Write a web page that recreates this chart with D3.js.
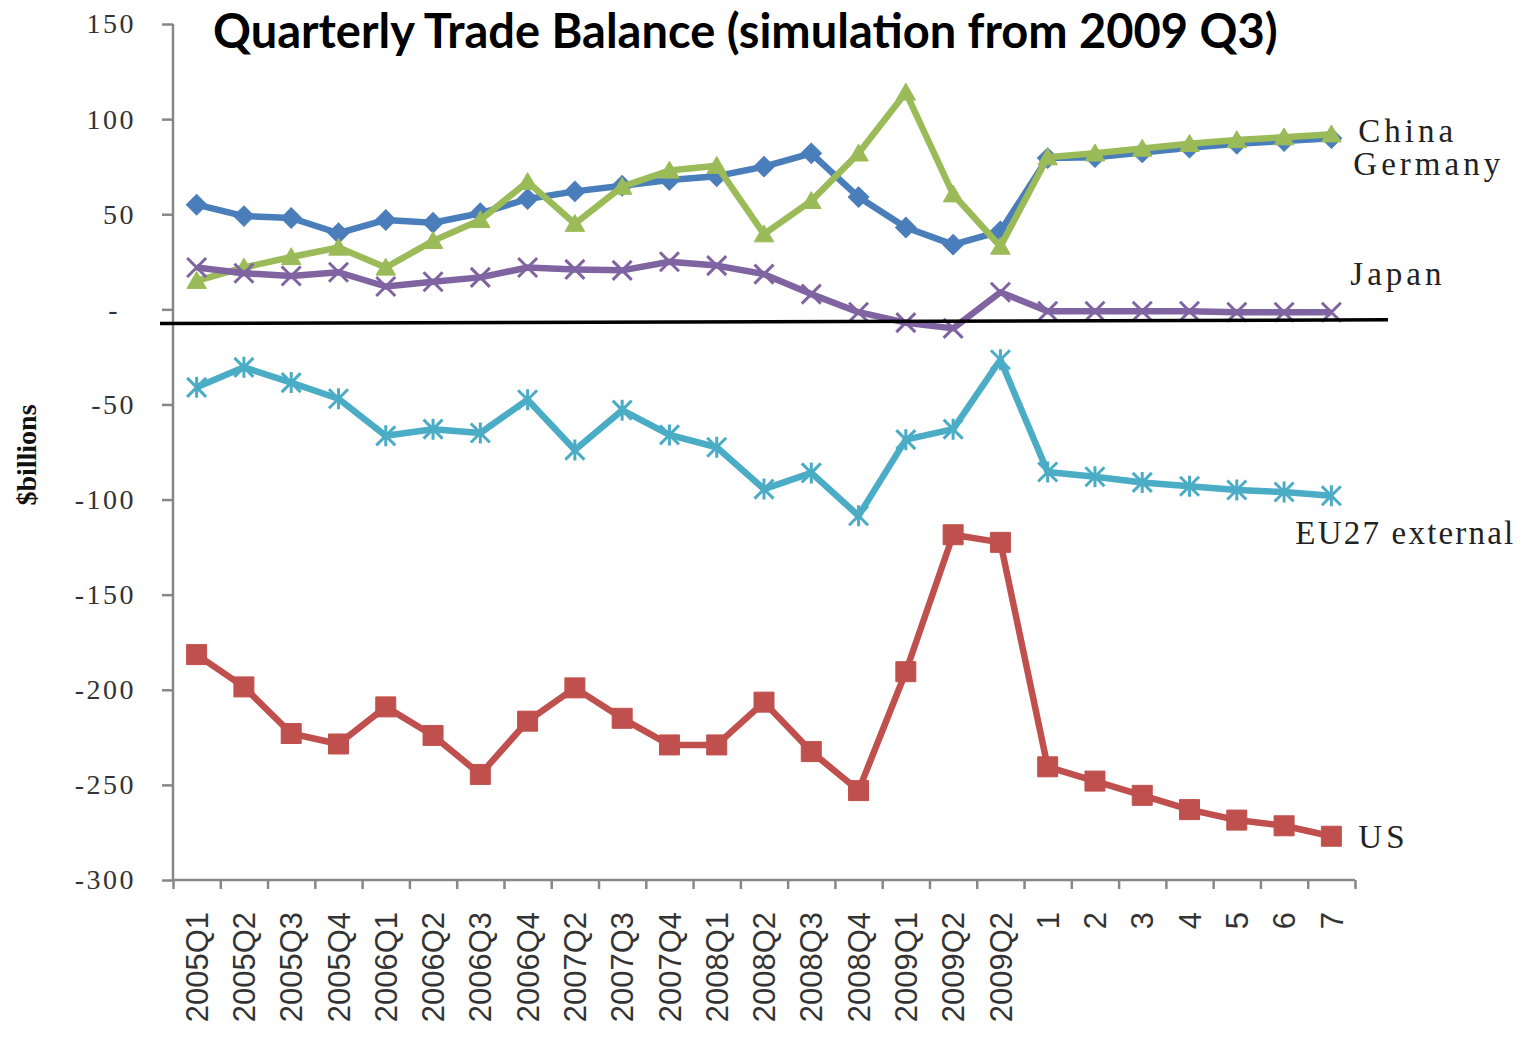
<!DOCTYPE html>
<html>
<head>
<meta charset="utf-8">
<script src="https://cdn.jsdelivr.net/npm/d3@7"></script>
<style>
  html, body { margin: 0; padding: 0; background: #fff; overflow: hidden; }
  svg { display: block; }
</style>
</head>
<body>
<svg id="chart" width="1524" height="1038"></svg>
<script>
// ---- data ----
const categories = ["2005Q1","2005Q2","2005Q3","2005Q4","2006Q1","2006Q2","2006Q3","2006Q4",
  "2007Q2","2007Q3","2007Q4","2008Q1","2008Q2","2008Q3","2008Q4","2009Q1","2009Q2","2009Q2",
  "1","2","3","4","5","6","7"];
const germany = [55,49,48,40,47,45.5,50.5,58,62,65,68,70,75,82,59,43,34,41,79.5,80,82.5,85,87,88.5,90];
const china   = [15,22,27.5,32.5,22,36,47,67,45,64.5,73,75.5,39.5,57,82,114,60.5,33,80,82,84.5,87,89,90.5,92];
const japan   = [22,19,17.5,19.5,12,14.5,16.8,22,21,20.5,25,23,18.5,8,-1.5,-7,-10,9,-1,-1,-1,-1,-1.5,-1.5,-1.5];
const eu27    = [-41,-30.5,-38.5,-47,-66.5,-63,-65,-47.5,-74,-53,-66,-72.5,-94.5,-86,-108.5,-68.5,-63,-26.5,-85.5,-88,-91,-93,-95,-96,-98];
const us      = [-181.5,-198.5,-223,-228.5,-209,-224,-244.5,-216.5,-199,-215,-229,-229,-206.5,-232.5,-253,-190.5,-118.5,-122.5,-240.5,-248,-255.5,-263,-268.5,-271.5,-277];
const yTicks  = [-300,-250,-200,-150,-100,-50,0,50,100,150];
const seriesNames = ["Germany","China","Japan","EU27 external","US"];
const titleText = "Quarterly Trade Balance (simulation from 2009 Q3)";
const yLabel = "$billions";
const baselineAnnot = [-7.5, -5.5]; // drawn black line (data units, left/right)

// ---- setup ----
const svg = d3.select("#chart");
const idx = d3.range(categories.length);
const x = d3.scaleBand().domain(idx).range([173, 1355]).padding(0);
const xc = i => x(i) + x.bandwidth() / 2;
const xb = d3.scaleLinear().domain([0, categories.length]).range([173, 1355]);
const y = d3.scaleLinear().domain([-300, 150]).range([880, 24]);

const series = [
  {name: seriesNames[0], values: germany, color: "#4A7EBB", marker: "diamond", lx: 22, ly: 37, ls: 4},
  {name: seriesNames[1], values: china,   color: "#9BBB59", marker: "triangle", lx: 27, ly: 8, ls: 4},
  {name: seriesNames[2], values: japan,   color: "#8064A2", marker: "x", lx: 19, ly: -27, ls: 4},
  {name: seriesNames[3], values: eu27,    color: "#4BACC6", marker: "star", lx: -36, ly: 48, ls: 2.2},
  {name: seriesNames[4], values: us,      color: "#C0504D", marker: "square", lx: 27, ly: 12, ls: 4}
];

// ---- axes ----
const axisColor = "#878787";
const yAxis = svg.append("g").attr("transform", "translate(173,0)")
  .call(d3.axisLeft(y).tickValues(yTicks).tickSize(11).tickPadding(26)
    .tickFormat(v => v === 0 ? "-" : String(v)));
yAxis.select(".domain").attr("stroke", axisColor).attr("stroke-width", 2.5)
  .attr("d", `M0,${y(150)}V${y(-300)}`);
yAxis.selectAll(".tick line").attr("stroke", axisColor).attr("stroke-width", 2.5);
yAxis.selectAll(".tick text")
  .attr("font-family", "'Liberation Serif', 'Times New Roman', serif")
  .attr("font-size", 28).attr("letter-spacing", 2.5).attr("fill", "#333")
  .attr("dx", v => v === 0 ? -16 : 0);

const xTicks = svg.append("g").attr("transform", `translate(0,${y(-300)})`)
  .call(d3.axisBottom(xb).tickValues(d3.range(categories.length + 1)).tickSize(9).tickFormat(""));
xTicks.select(".domain").attr("stroke", axisColor).attr("stroke-width", 2.5)
  .attr("d", `M${xb(0)},0H${xb(categories.length)}`);
xTicks.selectAll(".tick line").attr("stroke", axisColor).attr("stroke-width", 2.5);

const xLabels = svg.append("g").attr("transform", `translate(0,${y(-300)})`)
  .call(d3.axisBottom(x).tickSize(0).tickFormat(i => categories[i]));
xLabels.select(".domain").remove();
xLabels.selectAll(".tick text")
  .attr("font-family", "'Liberation Sans', Arial, sans-serif")
  .attr("font-size", 31).attr("fill", "#333")
  .attr("text-anchor", "end")
  .attr("transform", "translate(0,32) rotate(-90)")
  .attr("x", 0).attr("y", 0).attr("dy", "0.36em");

// ---- lines & markers ----
const line = d3.line().x((d, i) => xc(i)).y(d => y(d));
function markerPath(type) {
  if (type === "square") return d3.symbol(d3.symbolSquare, 400)();
  if (type === "diamond") return d3.symbol(d3.symbolSquare, 210)();
  if (type === "triangle") return d3.symbol(d3.symbolTriangle, 165)();
  const r = 9.5;
  if (type === "x") return `M${-r},${-r}L${r},${r}M${-r},${r}L${r},${-r}`;
  if (type === "star") return `M${-r},${-r}L${r},${r}M${-r},${r}L${r},${-r}M0,${-r - 1}L0,${r + 1}`;
}

series.forEach(s => {
  const g = svg.append("g");
  g.append("path").datum(s.values)
    .attr("d", line).attr("fill", "none")
    .attr("stroke", s.color).attr("stroke-width", 6.5).attr("stroke-linejoin", "round");
  const stroked = s.marker === "x" || s.marker === "star";
  g.selectAll("path.m").data(s.values).join("path").attr("class", "m")
    .attr("d", markerPath(s.marker))
    .attr("transform", (d, i) => `translate(${xc(i)},${y(d) + (s.marker === "triangle" ? 2 : 0)})` + (s.marker === "diamond" ? " rotate(45)" : ""))
    .attr("fill", stroked ? "none" : s.color)
    .attr("stroke", s.color).attr("stroke-width", stroked ? 3 : 1);
});

// ---- black baseline annotation ----
svg.append("line")
  .attr("x1", xb(0) - 13).attr("y1", y(baselineAnnot[0]))
  .attr("x2", xb(categories.length) + 33).attr("y2", y(baselineAnnot[1]))
  .attr("stroke", "#000").attr("stroke-width", 3.5);

// ---- series labels ----
series.forEach(s => {
  const n = s.values.length - 1;
  svg.append("text")
    .attr("x", xc(n) + s.lx).attr("y", y(s.values[n]) + s.ly)
    .attr("font-family", "'Liberation Serif', 'Times New Roman', serif")
    .attr("font-size", 33).attr("letter-spacing", s.ls).attr("fill", "#222")
    .text(s.name);
});

// ---- title ----
const title = svg.append("text")
  .attr("x", 213).attr("y", 48)
  .attr("font-family", "Lato, 'Open Sans', sans-serif").attr("font-weight", "bold")
  .attr("font-size", 40).attr("fill", "#000")
  .text(titleText);
const tw = title.node().getComputedTextLength();
title.attr("font-size", 40 * 1065 / tw);

// ---- y label ----
svg.append("text")
  .attr("transform", "translate(36,455) rotate(-90)")
  .attr("text-anchor", "middle")
  .attr("font-family", "'Liberation Serif', 'Times New Roman', serif")
  .attr("font-weight", "bold").attr("font-size", 28).attr("fill", "#111")
  .text(yLabel);
</script>
</body>
</html>
